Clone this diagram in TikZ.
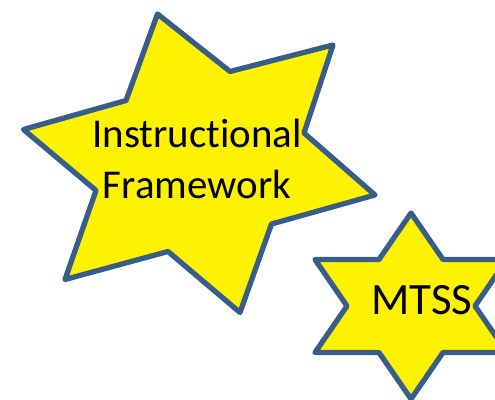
\documentclass[tikz,border=0pt]{standalone}
\usepackage{fontspec}
\usepackage{tkz-euclide}
\setmainfont[Ligatures={NoCommon}]{Carlito}
\definecolor{starblue}{HTML}{385D8A}
\tikzset{hexstar/.style={draw=starblue, fill=yellow, line width=3pt, line join=round}}

\begin{document}
\begin{tikzpicture}
\useasboundingbox (0,0) rectangle (9.9,8);
\clip (0,0) rectangle (9.9,8);
\tkzDefPoints{3.15/7.72/A, 4.60/6.57/B, 6.66/7.10/C, 6.08/5.34/D,
  7.50/4.10/E, 5.43/3.52/F, 4.80/1.75/G, 3.36/2.97/H,
  1.30/2.41/I, 1.92/4.19/J, 0.47/5.41/K, 2.52/5.99/L}
\tkzDrawPolygon[hexstar](A,B,C,D,E,F,G,H,I,J,K,L)
\tkzDefPoints{8.22/3.74/M, 7.58/2.81/N, 6.30/2.81/O, 6.94/1.88/P,
  6.30/0.95/Q, 7.58/0.95/R, 8.22/0.02/S, 8.86/0.95/T,
  10.14/0.95/U, 9.50/1.88/V, 10.14/2.81/W, 8.86/2.81/X}
\tkzDrawPolygon[hexstar](M,N,O,P,Q,R,S,T,U,V,W,X)
\node[font=\fontsize{23.3}{28.9}\selectfont, align=center] (instr) at (3.94,4.82) {Instructional\\Framework};
\node[font=\fontsize{25.5}{30}\selectfont] (mtss) at (8.44,2.0) {MTSS};
\end{tikzpicture}
\end{document}
